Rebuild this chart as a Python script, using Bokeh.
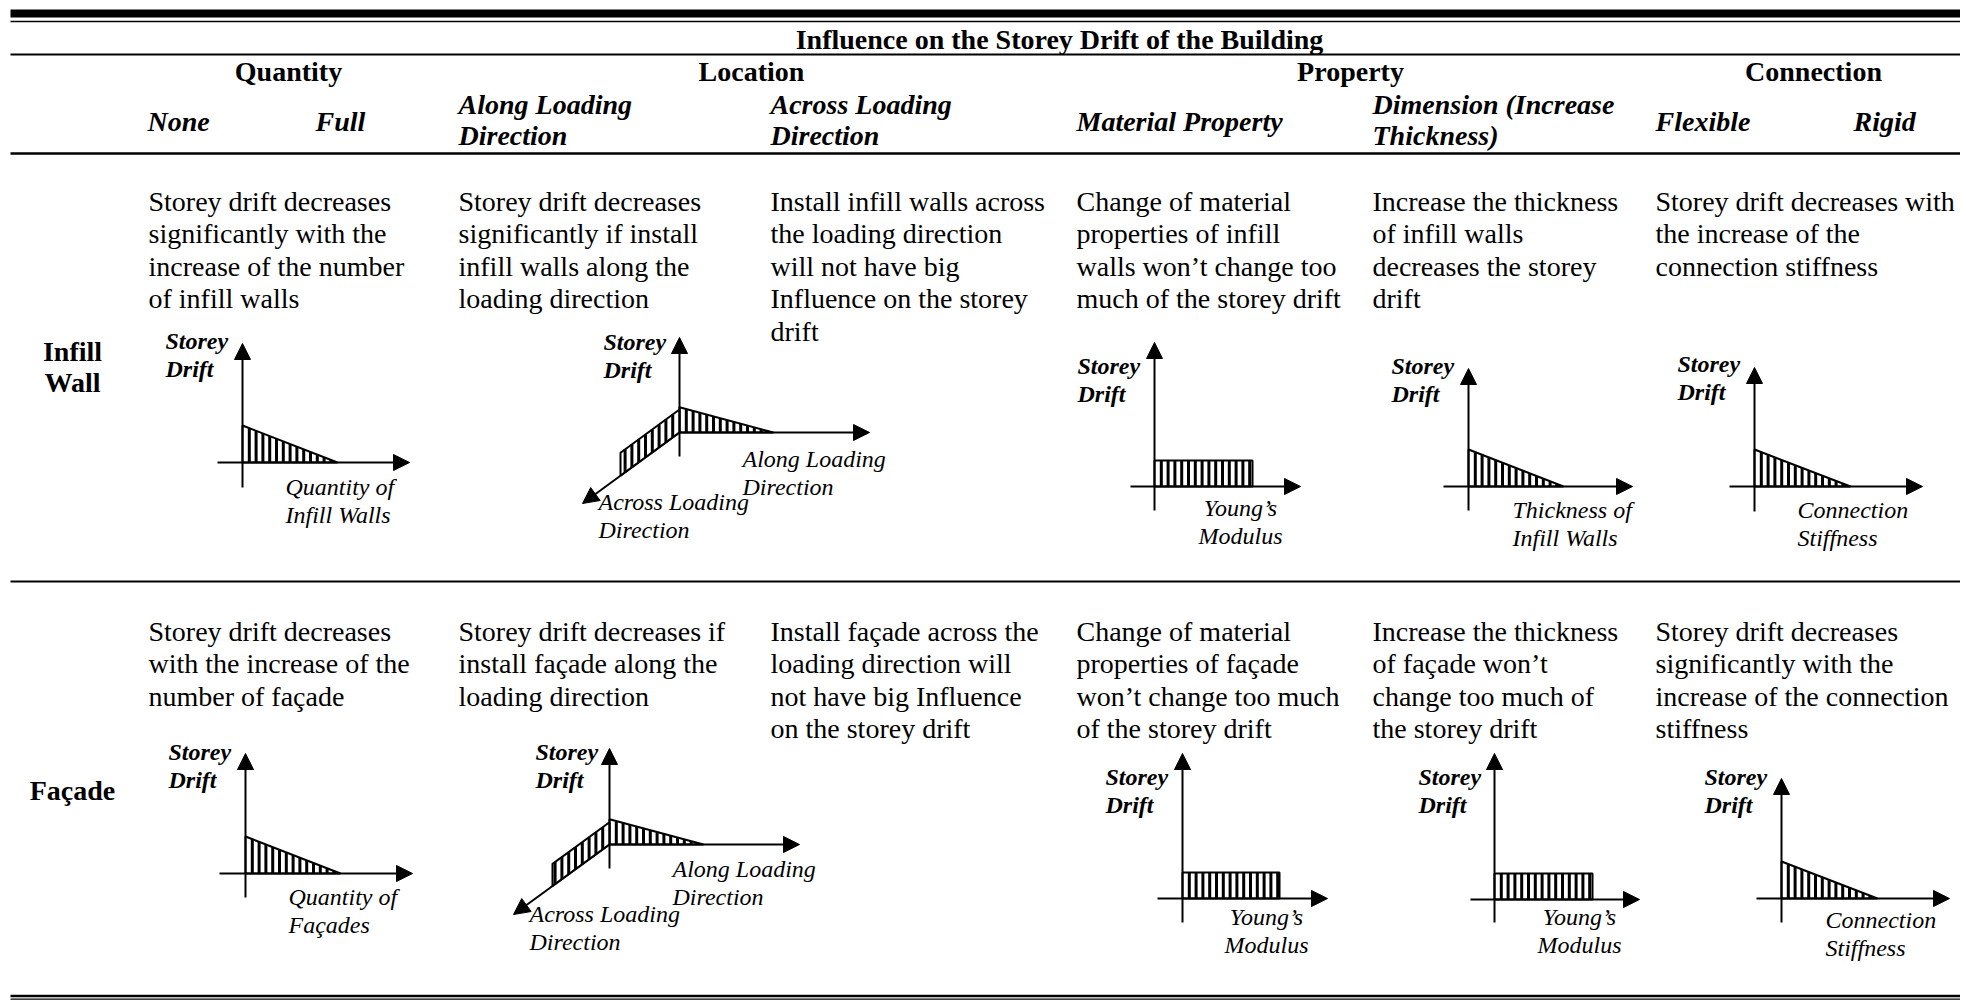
import math
from bokeh.plotting import figure
from bokeh.models import Range1d
from bokeh.embed import file_html
from bokeh.resources import INLINE
from bokeh.core.properties import value

FONT = "Liberation Serif"

# ---------------- texts ----------------
TITLE = "Influence on the Storey Drift of the Building"
GROUPS = ["Quantity", "Location", "Property", "Connection"]
SUBHEADERS = [["None"], ["Full"], ["Along Loading", "Direction"],
              ["Across Loading", "Direction"], ["Material Property"],
              ["Dimension (Increase", "Thickness)"], ["Flexible"], ["Rigid"]]
ROW_LABELS = [["Infill", "Wall"], ["Façade"]]

ROW1_TEXT = [
    ["Storey drift decreases", "significantly with the", "increase of the number", "of infill walls"],
    ["Storey drift decreases", "significantly if install", "infill walls along the", "loading direction"],
    ["Install infill walls across", "the loading direction", "will not have big", "Influence on the storey", "drift"],
    ["Change of material", "properties of infill", "walls won’t change too", "much of the storey drift"],
    ["Increase the thickness", "of infill walls", "decreases the storey", "drift"],
    ["Storey drift decreases with", "the increase of the", "connection stiffness"],
]
ROW2_TEXT = [
    ["Storey drift decreases", "with the increase of the", "number of façade"],
    ["Storey drift decreases if", "install façade along the", "loading direction"],
    ["Install façade across the", "loading direction will", "not have big Influence", "on the storey drift"],
    ["Change of material", "properties of façade", "won’t change too much", "of the storey drift"],
    ["Increase the thickness", "of façade won’t", "change too much of", "the storey drift"],
    ["Storey drift decreases", "significantly with the", "increase of the connection", "stiffness"],
]

YLABEL = ["Storey", "Drift"]
ALONG_LABEL = ["Along Loading", "Direction"]
ACROSS_LABEL = ["Across Loading", "Direction"]
ROW1_XLABELS = [["Quantity of", "Infill Walls"], None, None, ["Young’s", "Modulus"],
                ["Thickness of", "Infill Walls"], ["Connection", "Stiffness"]]
ROW2_XLABELS = [["Quantity of", "Façades"], None, None, ["Young’s", "Modulus"],
                ["Young’s", "Modulus"], ["Connection", "Stiffness"]]

# ---------------- schematic drift values (relative) ----------------
# drift at the start / end of the shaded region along the horizontal axis
ROW1_DRIFT_START = [1.0, 0.68, None, 0.70, 1.0, 1.0]
ROW1_DRIFT_END = [0.0, 0.0, None, 0.70, 0.0, 0.0]
ROW2_DRIFT_START = [1.0, 0.68, None, 0.70, 0.70, 1.0]
ROW2_DRIFT_END = [0.0, 0.0, None, 0.70, 0.70, 0.0]
ACROSS_DRIFT = [0.62, 0.60]   # constant drift across loading direction (row 1, row 2)

# ---------------- layout (pixel geometry of the page) ----------------
W, H = 1960, 1000
DRIFT_SCALE = 37.0
TEXT_COLS = [148, 458, 770, 1076, 1372, 1655]
ROW_TEXT_TOP = [200.5, 630.5]
LINE_H = 32.5
LAB_H = 27.5
LAB_DY = -8.5

LAYOUT = {
    (0, 0): dict(yx=242, ytip=343, ybot=487, xy=462, xs=217, xt=409, L=95, yl=(165, 349), xl=(285, 495, "left")),
    (0, 1): dict(yx=679, ytip=337, ybot=456, xy=432, xs=679, xt=869, L=94, yl=(603, 350),
                 diag=(582, 503), fdx=59, al=(742, 467), ac=(598, 510)),
    (0, 3): dict(yx=1154, ytip=342, ybot=510, xy=486, xs=1130, xt=1300, L=98, yl=(1077, 374), xl=(1240, 516, "center")),
    (0, 4): dict(yx=1468, ytip=368, ybot=510, xy=486, xs=1443, xt=1632, L=95, yl=(1391, 374), xl=(1512, 518, "left")),
    (0, 5): dict(yx=1754, ytip=367, ybot=511, xy=486, xs=1729, xt=1922, L=96, yl=(1677, 372), xl=(1797, 518, "left")),
    (1, 0): dict(yx=245, ytip=753, ybot=897, xy=873, xs=219, xt=412, L=95, yl=(168, 760), xl=(288, 905, "left")),
    (1, 1): dict(yx=609, ytip=748, ybot=868, xy=844, xs=609, xt=799, L=94, yl=(535, 760),
                 diag=(513, 914), fdx=57, al=(672, 877), ac=(529, 922)),
    (1, 3): dict(yx=1182, ytip=753, ybot=922, xy=898, xs=1157, xt=1327, L=97, yl=(1105, 785), xl=(1266, 925, "center")),
    (1, 4): dict(yx=1494, ytip=753, ybot=922, xy=899, xs=1470, xt=1639, L=98, yl=(1418, 785), xl=(1579, 925, "center")),
    (1, 5): dict(yx=1781, ytip=778, ybot=922, xy=898, xs=1756, xt=1949, L=96, yl=(1704, 785), xl=(1825, 928, "left")),
}

p = figure(width=W, height=H, x_range=Range1d(0, W), y_range=Range1d(H, 0),
           output_backend="svg", toolbar_location=None, min_border=0,
           x_axis_type=None, y_axis_type=None)
p.grid.visible = False
p.outline_line_color = None
p.background_fill_color = "white"
p.border_fill_color = "white"

texts = {}
def add_text(x, y, t, style="normal", size="28px", align="left"):
    texts.setdefault((style, size, align), []).append((x, y, t))

lines = {}
def add_line(x0, y0, x1, y1, w):
    lines.setdefault(w, []).append((x0, y0, x1, y1))

heads = []
def arrowhead(tx, ty, ux, uy, length=16, half=8):
    bx, by = tx - ux * length, ty - uy * length
    nx, ny = -uy, ux
    heads.append(([tx, bx + nx * half, bx - nx * half], [ty, by + ny * half, by - ny * half]))

shapes = []
hatch = []

# ---------- table rules ----------
for y, w in [(13, 8), (21, 1.7), (54, 2), (153, 2.5), (581, 2), (995.5, 2.6), (998.6, 1.4)]:
    add_line(10, y, W, y, w)

# ---------- header ----------
add_text(1059, 39, TITLE, "bold", "28px", "center")
for g, cx in zip(GROUPS, [288, 751, 1350, 1813]):
    add_text(cx, 71, g, "bold", "28px", "center")
for sub, x in zip(SUBHEADERS, [147, 315, 458, 770, 1076, 1372, 1655, 1853]):
    if len(sub) == 1:
        add_text(x, 120.5, sub[0], "bold italic", "28px")
    else:
        add_text(x, 104, sub[0], "bold italic", "28px")
        add_text(x, 135, sub[1], "bold italic", "28px")

# ---------- row labels ----------
add_text(72, 351, ROW_LABELS[0][0], "bold", "28px", "center")
add_text(72, 382, ROW_LABELS[0][1], "bold", "28px", "center")
add_text(72, 790, ROW_LABELS[1][0], "bold", "28px", "center")

# ---------- body text ----------
for r, rows in enumerate([ROW1_TEXT, ROW2_TEXT]):
    for c, block in enumerate(rows):
        for i, line in enumerate(block):
            add_text(TEXT_COLS[c], ROW_TEXT_TOP[r] + i * LINE_H, line)

# ---------- diagrams ----------
HATCH_STEP = 6.8

def hatched_profile(ox, oy, L, d0, d1):
    top0 = oy - DRIFT_SCALE * d0
    top1 = oy - DRIFT_SCALE * d1
    shapes.append(([ox, ox, ox + L, ox + L], [oy, top0, top1, oy]))
    x = ox + HATCH_STEP
    while x < ox + L - 1:
        t = top0 + (top1 - top0) * (x - ox) / L
        if oy - t > 1.5:
            hatch.append((x, oy, x, t))
        x += HATCH_STEP

for r, (starts, ends, xlabels) in enumerate([(ROW1_DRIFT_START, ROW1_DRIFT_END, ROW1_XLABELS),
                                             (ROW2_DRIFT_START, ROW2_DRIFT_END, ROW2_XLABELS)]):
    for c in range(6):
        key = (r, c)
        if key not in LAYOUT:
            continue
        g = LAYOUT[key]
        ox, oy = g["yx"], g["xy"]
        hatched_profile(ox, oy, g["L"], starts[c], ends[c])
        if "diag" in g:
            tx, ty = g["diag"]
            slope = (ty - oy) / (ox - tx)
            fx = ox - g["fdx"]
            fy = oy + g["fdx"] * slope
            hc = DRIFT_SCALE * ACROSS_DRIFT[r]
            shapes.append(([ox, ox, fx, fx], [oy, oy - hc, fy - hc, fy]))
            x = ox - HATCH_STEP
            while x > fx + 1:
                yb = oy + (ox - x) * slope
                hatch.append((x, yb, x, yb - hc))
                x -= HATCH_STEP
            dl = math.hypot(tx - ox, ty - oy)
            ux, uy = (tx - ox) / dl, (ty - oy) / dl
            add_line(ox, oy, tx - ux * 14, ty - uy * 14, 2)
            arrowhead(tx, ty, ux, uy)
            for i, t in enumerate(ALONG_LABEL):
                add_text(g["al"][0], g["al"][1] + i * LAB_H + LAB_DY, t, "italic", "24px")
            for i, t in enumerate(ACROSS_LABEL):
                add_text(g["ac"][0], g["ac"][1] + i * LAB_H + LAB_DY, t, "italic", "24px")
        add_line(ox, g["ybot"], ox, g["ytip"] + 14, 2)
        arrowhead(ox, g["ytip"], 0, -1)
        add_line(g["xs"], oy, g["xt"] - 14, oy, 2)
        arrowhead(g["xt"], oy, 1, 0)
        for i, t in enumerate(YLABEL):
            add_text(g["yl"][0], g["yl"][1] + i * LAB_H + LAB_DY, t, "bold italic", "24px")
        if xlabels[c]:
            lx, ly, al = g["xl"]
            for i, t in enumerate(xlabels[c]):
                add_text(lx, ly + i * LAB_H + LAB_DY, t, "italic", "24px", al)

# ---------- draw ----------
p.patches([s[0] for s in shapes], [s[1] for s in shapes], fill_color="white",
          line_color="black", line_width=2)
p.segment([h[0] for h in hatch], [h[1] for h in hatch], [h[2] for h in hatch], [h[3] for h in hatch],
          line_color="black", line_width=3)
for w, segs in lines.items():
    p.segment([s[0] for s in segs], [s[1] for s in segs], [s[2] for s in segs], [s[3] for s in segs],
              line_color="black", line_width=w)
p.patches([h[0] for h in heads], [h[1] for h in heads], fill_color="black", line_color="black", line_width=1)

for (style, size, align), items in texts.items():
    p.text(x=[i[0] for i in items], y=[i[1] for i in items], text=[i[2] for i in items],
           text_font=value(FONT), text_font_size=value(size), text_font_style=style,
           text_align=align, text_baseline="alphabetic", text_color="black")

open("out.html", "w").write(file_html(p, INLINE))
